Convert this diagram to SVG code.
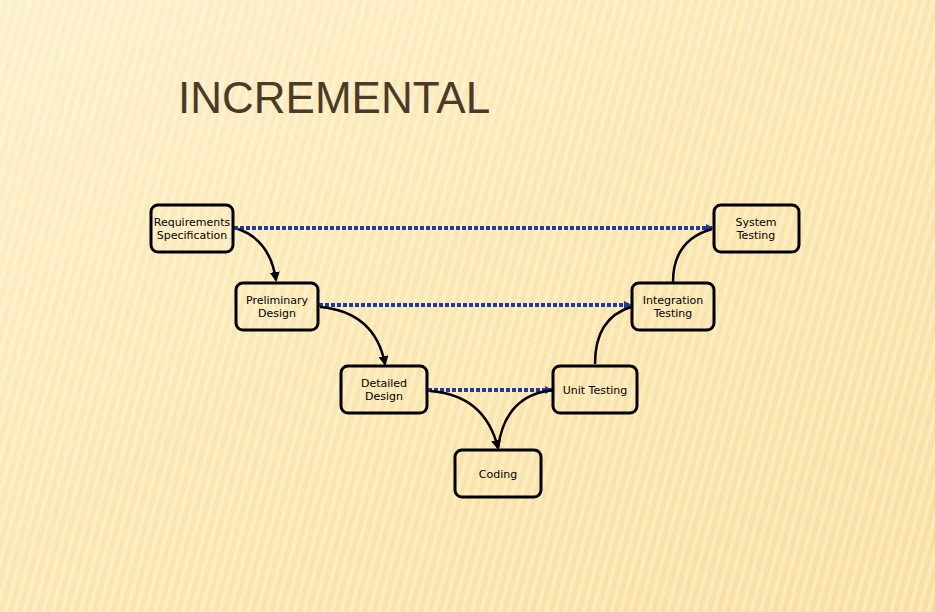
<svg xmlns="http://www.w3.org/2000/svg" width="935" height="612" viewBox="0 0 935 612">
<defs>
<linearGradient id="bg" x1="0" y1="0" x2="1" y2="1">
<stop offset="0" stop-color="#fdf0c8"/><stop offset="0.5" stop-color="#fbe6ad"/><stop offset="1" stop-color="#f8df9f"/>
</linearGradient>
<pattern id="st" width="9" height="9" patternUnits="userSpaceOnUse" patternTransform="rotate(15)">
<rect width="4" height="9" fill="#ffffff" opacity="0.3"/>
</pattern>
<marker id="ab" markerWidth="8" markerHeight="8" refX="7" refY="4" orient="auto" markerUnits="userSpaceOnUse"><path d="M0,0 L8,4 L0,8 z" fill="#1f3aa0"/></marker>
<marker id="ak" markerWidth="10" markerHeight="10" refX="8" refY="5" orient="auto" markerUnits="userSpaceOnUse"><path d="M0,0 L10,5 L0,10 z" fill="#000"/></marker>
</defs>
<style>
.n rect{fill:none;stroke:#000;stroke-width:3}
.n text{font-family:"DejaVu Sans",Verdana,sans-serif;font-size:11px;fill:#000;text-anchor:middle}
.d{fill:none;stroke:#1f3aa0;stroke-width:4;stroke-dasharray:4 2;marker-end:url(#ab)}
.c{fill:none;stroke:#000;stroke-width:2.5}
</style>
<rect width="935" height="612" fill="url(#bg)"/>
<rect width="935" height="612" fill="url(#st)"/>
<text x="178" y="113" font-family="Liberation Sans,Arial,sans-serif" font-size="44" fill="#4a3b28">INCREMENTAL</text>
<g id="connectors">
<path class="d" d="M234,228 L713,228"/>
<path class="d" d="M319,305 L631,305"/>
<path class="d" d="M428,390 L552,390"/>
<path class="c" d="M238,229 Q270,240 276,280" marker-end="url(#ak)"/>
<path class="c" d="M320,307 Q375,312 385,364" marker-end="url(#ak)"/>
<path class="c" d="M430,391 Q485,395 498,448" marker-end="url(#ak)"/>
<path class="c" d="M498,448 Q505,395 553,390"/>
<path class="c" d="M595,364 Q595,318 631,307"/>
<path class="c" d="M673,282 Q673,240 712,229"/>
</g>
<g id="req" class="n"><rect x="151" y="205" width="82" height="47" rx="7"/><text x="192" y="226">Requirements</text><text x="192" y="239">Specification</text></g>
<g id="sys" class="n"><rect x="714" y="205" width="85" height="47" rx="7"/><text x="756" y="226">System</text><text x="756" y="239">Testing</text></g>
<g id="pre" class="n"><rect x="236" y="283" width="82" height="47" rx="7"/><text x="277" y="304">Preliminary</text><text x="277" y="317">Design</text></g>
<g id="int" class="n"><rect x="632" y="283" width="82" height="47" rx="7"/><text x="673" y="304">Integration</text><text x="673" y="317">Testing</text></g>
<g id="det" class="n"><rect x="341" y="366" width="86" height="47" rx="7"/><text x="384" y="387">Detailed</text><text x="384" y="400">Design</text></g>
<g id="unit" class="n"><rect x="553" y="366" width="84" height="47" rx="7"/><text x="595" y="394">Unit Testing</text></g>
<g id="cod" class="n"><rect x="455" y="450" width="86" height="47" rx="7"/><text x="498" y="478">Coding</text></g>
</svg>
